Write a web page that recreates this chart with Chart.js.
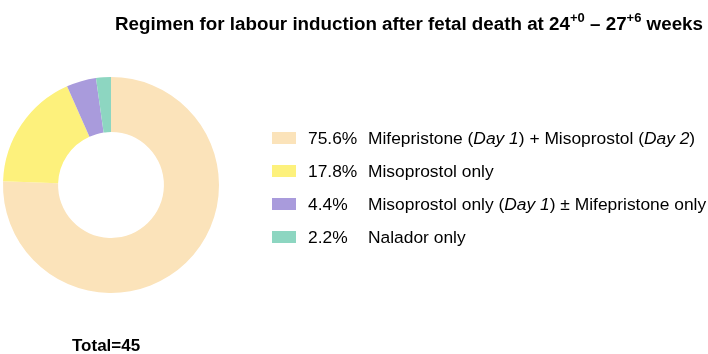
<html>
<head>
<script src="https://cdn.jsdelivr.net/npm/chart.js@4.4.0/dist/chart.umd.min.js"></script>
<style>
  body { margin: 0; background: white; }
  #wrap { width: 708px; height: 354px; position: relative; }
</style>
</head>
<body>
<div id="wrap"><canvas id="regimenChart"></canvas></div>
<script>
  // data
  var regimenKeys = ["mife_miso", "miso", "miso_mife", "nalador"];
  var regimenCounts = [34, 8, 2, 1];
  var regimenColors = ["#FBE3BA", "#FDF17C", "#A99BDC", "#8DD6C1"];
  // legend text, [text, italic?]
  var regimenLabels = [
    [["Mifepristone (", 0], ["Day 1", 1], [") + Misoprostol (", 0], ["Day 2", 1], [")", 0]],
    [["Misoprostol only", 0]],
    [["Misoprostol only (", 0], ["Day 1", 1], [") \u00b1 Mifepristone only", 0]],
    [["Nalador only", 0]]
  ];
  var total = regimenCounts.reduce(function (a, b) { return a + b; }, 0);
  var percentLabels = regimenCounts.map(function (v) { return (v / total * 100).toFixed(1) + "%"; });

  var FONT = "'Liberation Sans', Arial, sans-serif";

  var textPlugin = {
    id: "textPlugin",
    afterDraw: function (chart) {
      var ctx = chart.ctx;
      ctx.save();
      ctx.fillStyle = "#000";
      ctx.textBaseline = "alphabetic";

      // title, right aligned, with superscripts
      var parts = [
        ["Regimen for labour induction after fetal death at 24", 0],
        ["+0", 1],
        [" \u2013 27", 0],
        ["+6", 1],
        [" weeks", 0]
      ];
      var widths = parts.map(function (p) {
        ctx.font = "bold " + (p[1] ? 13 : 18.8) + "px " + FONT;
        return ctx.measureText(p[0]).width;
      });
      var x = 703 - widths.reduce(function (a, b) { return a + b; }, 0);
      parts.forEach(function (p, i) {
        ctx.font = "bold " + (p[1] ? 13 : 18.8) + "px " + FONT;
        ctx.fillText(p[0], x, p[1] ? 22 : 30);
        x += widths[i];
      });

      // legend
      var rowY = [138, 171, 204, 237];
      regimenLabels.forEach(function (segs, i) {
        ctx.fillStyle = regimenColors[i];
        ctx.fillRect(272, rowY[i] - 6, 24, 12);
        ctx.fillStyle = "#000";
        ctx.font = "17.4px " + FONT;
        ctx.fillText(percentLabels[i], 308, rowY[i] + 6);
        var lx = 368;
        segs.forEach(function (s) {
          ctx.font = (s[1] ? "italic " : "") + "17.4px " + FONT;
          ctx.fillText(s[0], lx, rowY[i] + 6);
          lx += ctx.measureText(s[0]).width;
        });
      });

      // total
      ctx.font = "bold 17px " + FONT;
      ctx.fillText("Total=" + total, 72, 351);
      ctx.restore();
    }
  };

  new Chart(document.getElementById("regimenChart"), {
    type: "doughnut",
    data: {
      labels: regimenKeys,
      datasets: [{
        data: regimenCounts,
        backgroundColor: regimenColors,
        borderWidth: 0
      }]
    },
    options: {
      responsive: true,
      maintainAspectRatio: false,
      animation: false,
      cutout: "49%",
      layout: { padding: { left: 2, right: 488, top: 77, bottom: 61 } },
      plugins: { legend: { display: false }, tooltip: { enabled: false } }
    },
    plugins: [textPlugin]
  });
</script>
</body>
</html>
